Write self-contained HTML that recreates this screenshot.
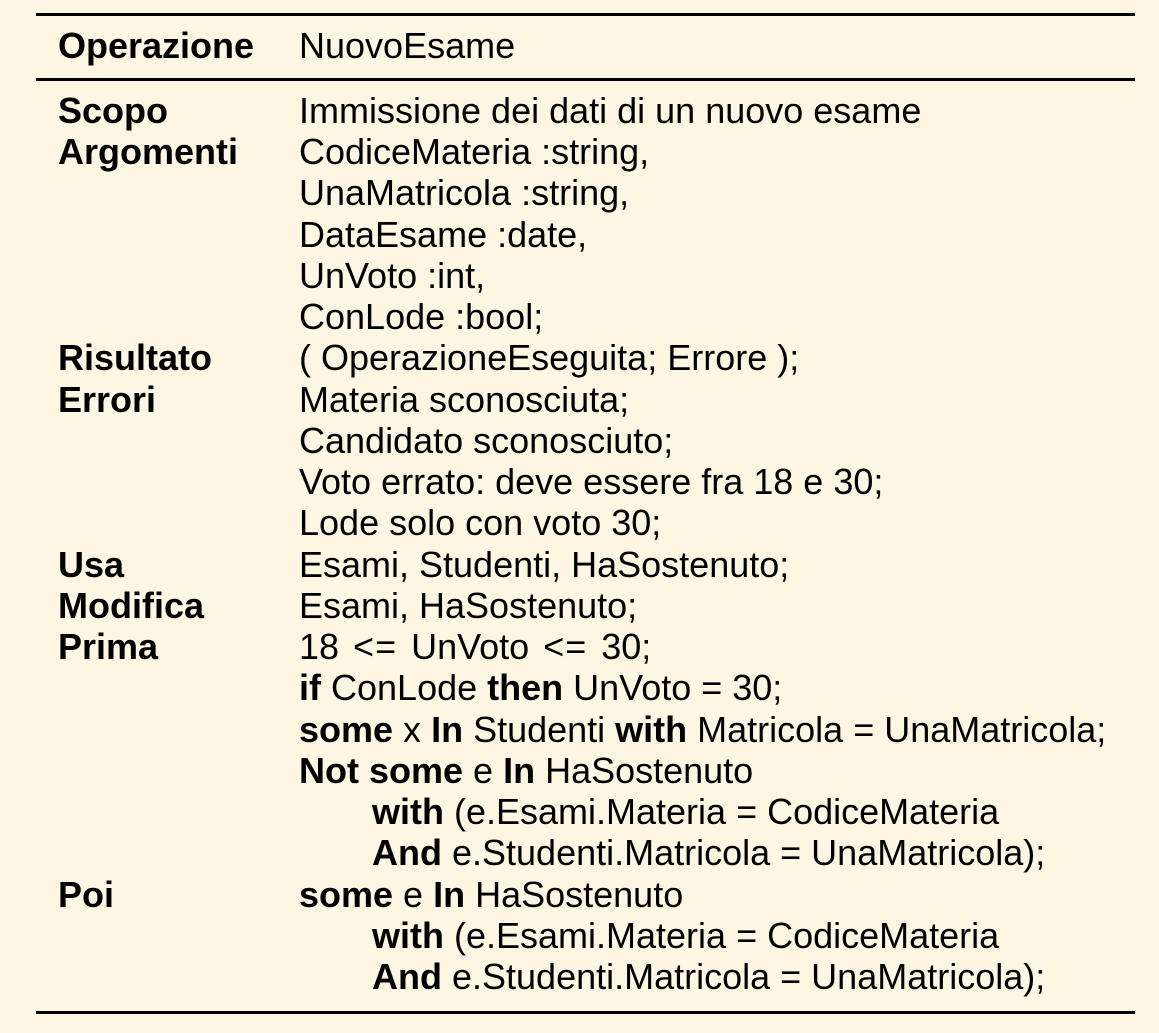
<!DOCTYPE html>
<html><head><meta charset="utf-8"><style>
html,body{margin:0;padding:0;background:#fdf6e3;}
body{width:1159px;height:1033px;position:relative;overflow:hidden;font-family:"Liberation Sans",Arial,sans-serif;font-size:36px;color:#000;}
.rule{position:absolute;left:36px;width:1099px;height:3px;background:#000;}
.t{position:absolute;white-space:nowrap;line-height:41.24px;}
.c1{left:58px;font-weight:bold;}
.c2{left:299px;}
.c3{left:372px;}
b{font-weight:bold;}
.le{display:inline-block;margin:0 4px;letter-spacing:1px;}
</style></head><body>
<div class="rule" style="top:13px"></div>
<div class="rule" style="top:78px"></div>
<div class="rule" style="top:1011px"></div>
<div class="t c1" style="top:25px">Operazione</div>
<div class="t c2" style="top:25px">NuovoEsame</div>
<div style="position:absolute;left:0;top:90px;width:1159px;">
<div class="t c1" style="top:0">Scopo</div><div class="t c2" style="top:0">Immissione dei dati di un nuovo esame</div>
<div class="t c1" style="top:41.24px">Argomenti</div><div class="t c2" style="top:41.24px">CodiceMateria :string,</div>
<div class="t c2" style="top:82.48px">UnaMatricola :string,</div>
<div class="t c2" style="top:123.72px">DataEsame :date,</div>
<div class="t c2" style="top:164.96px">UnVoto :int,</div>
<div class="t c2" style="top:206.2px">ConLode :bool;</div>
<div class="t c1" style="top:247.44px">Risultato</div><div class="t c2" style="top:247.44px">( OperazioneEseguita; Errore );</div>
<div class="t c1" style="top:288.68px">Errori</div><div class="t c2" style="top:288.68px">Materia sconosciuta;</div>
<div class="t c2" style="top:329.92px">Candidato sconosciuto;</div>
<div class="t c2" style="top:371.16px">Voto errato: deve essere fra 18 e 30;</div>
<div class="t c2" style="top:412.4px">Lode solo con voto 30;</div>
<div class="t c1" style="top:453.64px">Usa</div><div class="t c2" style="top:453.64px">Esami, Studenti, HaSostenuto;</div>
<div class="t c1" style="top:494.88px">Modifica</div><div class="t c2" style="top:494.88px">Esami, HaSostenuto;</div>
<div class="t c1" style="top:536.12px">Prima</div><div class="t c2" style="top:536.12px">18 <span class="le">&lt;=</span> UnVoto <span class="le">&lt;=</span> 30;</div>
<div class="t c2" style="top:577.36px"><b>if</b> ConLode <b>then</b> UnVoto = 30;</div>
<div class="t c2" style="top:618.6px"><b>some</b> x <b>In</b> Studenti <b>with</b> Matricola = UnaMatricola;</div>
<div class="t c2" style="top:659.84px"><b>Not some</b> e <b>In</b> HaSostenuto</div>
<div class="t c3" style="top:701.08px"><b>with</b> (e.Esami.Materia = CodiceMateria</div>
<div class="t c3" style="top:742.32px"><b>And</b> e.Studenti.Matricola = UnaMatricola);</div>
<div class="t c1" style="top:783.56px">Poi</div><div class="t c2" style="top:783.56px"><b>some</b> e <b>In</b> HaSostenuto</div>
<div class="t c3" style="top:824.8px"><b>with</b> (e.Esami.Materia = CodiceMateria</div>
<div class="t c3" style="top:866.04px"><b>And</b> e.Studenti.Matricola = UnaMatricola);</div>
</div>
</body></html>
